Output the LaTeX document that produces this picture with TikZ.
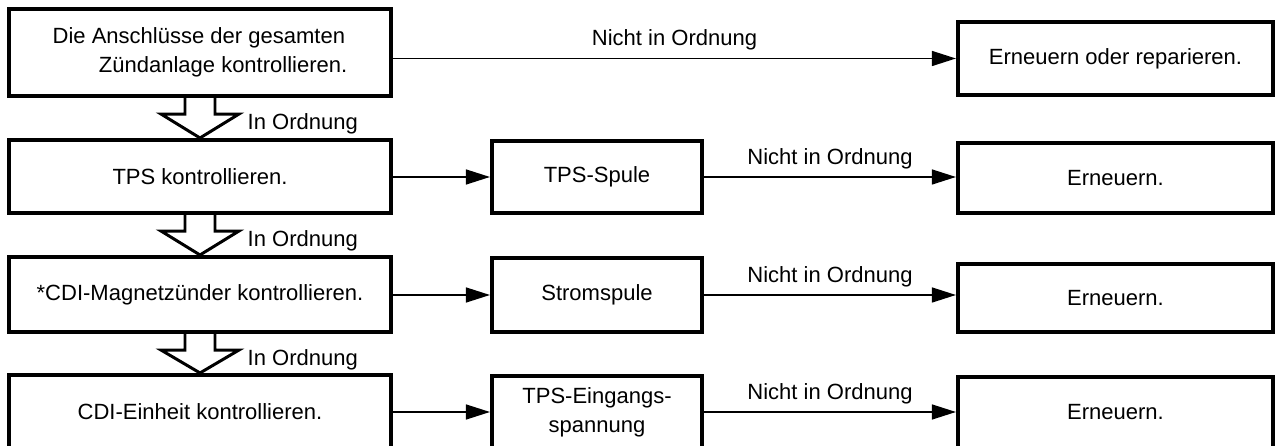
\documentclass[tikz,border=0pt]{standalone}
\usepackage{fontspec}
\setmainfont{Liberation Sans}
\usetikzlibrary{arrows.meta,calc,positioning}
\newcommand{\zsfont}{\fontsize{6.26pt}{8.25pt}\selectfont}
\tikzset{
  zs box/.style={draw, line width=1.14pt, inner sep=0pt, align=center, font=\zsfont},
  zs check/.style={zs box, minimum width=3.82cm},
  zs part/.style={zs box, minimum width=2.10cm},
  zs fix/.style={zs box, minimum width=3.15cm},
  zs flow/.style={
    draw,
    line width=.4pt,
    -{Triangle[length=2.4mm,width=1.5mm]}
  },
  zs ok arrow/.style={draw, line width=.85pt, line join=miter},
  zs label/.style={font=\zsfont, inner sep=0pt},
  zs fail/.style={zs label, midway, above=.75mm}
}
% hollow "In Ordnung" arrow from #1 down to #2, label named #3
\newcommand{\zsok}[3]{%
  \draw[zs ok arrow] ($(#1.south)+(-15,0)$) -- ++(0,16) -- ++(-24,0) -- (#2.north)
    -- ($(#1.south)+(39,16)$) -- ++(-24,0) -- ($(#1.south)+(15,0)$);
  \node[zs label, anchor=base west] (#3) at ($(#1.south)+(47,31)$) {In Ordnung};
}

\begin{document}
\begin{tikzpicture}[x=.01cm,y=-.01cm]
  \useasboundingbox (0,0) rectangle (1275,446);

  % row 1
  \node[zs check, minimum height=.87cm, align=left] (check1) at (200,52.5)
    {Die Anschlüsse der gesamten\\\hspace*{2.1em}Zündanlage kontrollieren.};
  \node[zs fix, minimum height=.73cm] (fix1) at (1115.5,58.5) {Erneuern oder reparieren.};
  \draw[zs flow] (check1.east |- fix1.west) -- node[zs fail] (fail1) {Nicht in Ordnung} (fix1.west);

  % row 2
  \node[zs check, minimum height=.73cm] (check2) at (200,176.5) {TPS kontrollieren.};
  \node[zs part, minimum height=.72cm] (part2) at (597,177) {TPS-Spule};
  \node[zs fix, minimum height=.70cm] (fix2) at (1115.5,178) {Erneuern.};
  \draw[zs flow] (check2.east |- part2.west) -- (part2.west);
  \draw[zs flow] (part2.east) -- node[zs fail] (fail2) {Nicht in Ordnung} (part2.east -| fix2.west);

  % row 3
  \node[zs check, minimum height=.75cm] (check3) at (200,294.5) {*CDI-Magnetzünder kontrollieren.};
  \node[zs part, minimum height=.74cm] (part3) at (597,295) {Stromspule};
  \node[zs fix, minimum height=.68cm] (fix3) at (1115.5,298) {Erneuern.};
  \draw[zs flow] (check3.east |- part3.west) -- (part3.west);
  \draw[zs flow] (part3.east) -- node[zs fail] (fail3) {Nicht in Ordnung} (part3.east -| fix3.west);

  % row 4 (cut off at the bottom)
  \node[zs check, minimum height=.73cm] (check4) at (200,411.5) {CDI-Einheit kontrollieren.};
  \node[zs part, minimum height=.72cm] (part4) at (597,412) {TPS-Eingangs-\\spannung};
  \node[zs fix, minimum height=.71cm] (fix4) at (1115.5,412.5) {Erneuern.};
  \draw[zs flow] (check4.east |- part4.west) -- (part4.west);
  \draw[zs flow] (part4.east) -- node[zs fail] (fail4) {Nicht in Ordnung} (part4.east -| fix4.west);

  % hollow arrows between the checks
  \zsok{check1}{check2}{ok1}
  \zsok{check2}{check3}{ok2}
  \zsok{check3}{check4}{ok3}
\end{tikzpicture}
\end{document}
